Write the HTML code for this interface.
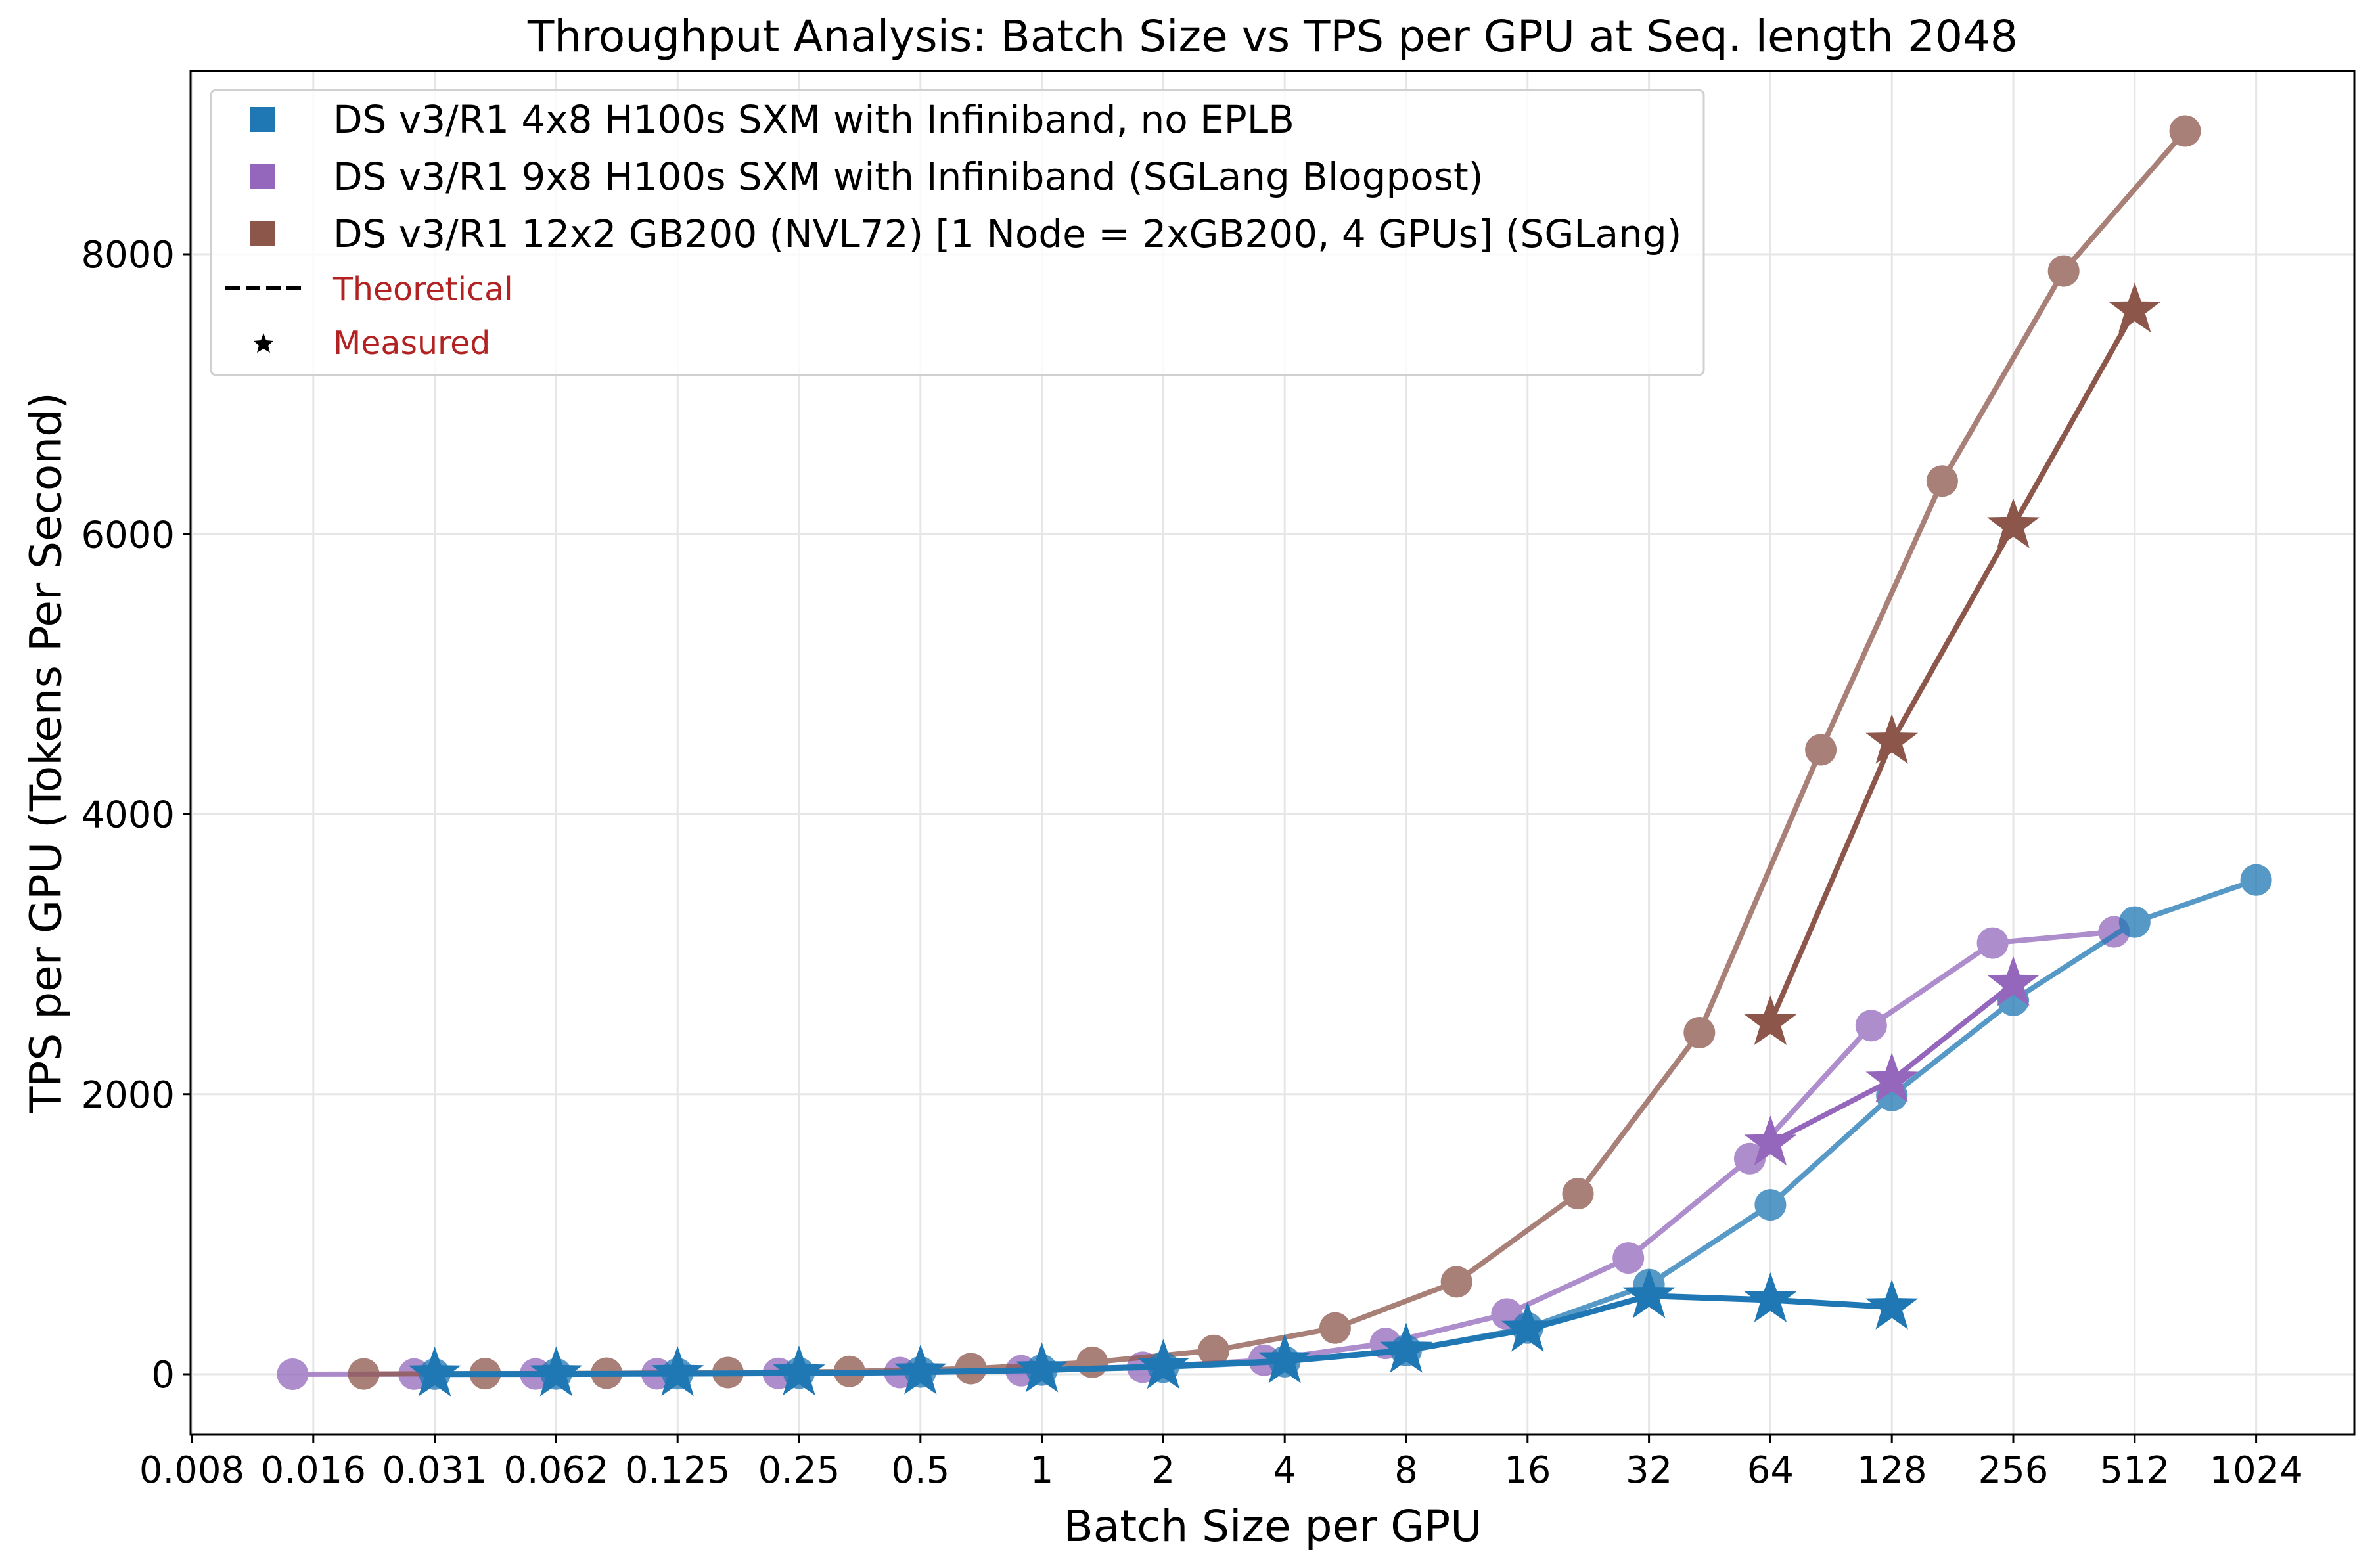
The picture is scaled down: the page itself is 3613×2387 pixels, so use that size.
<!DOCTYPE html>
<html><head><meta charset="utf-8"><style>
html,body{margin:0;padding:0;background:#fff;}
svg{display:block;font-family:"DejaVu Sans","Liberation Sans",sans-serif;}
</style></head><body>
<svg id="chart" width="3613" height="2387" viewBox="0 0 3613 2387" xmlns="http://www.w3.org/2000/svg">
<rect width="3613" height="2387" fill="#fff"/>
<g id="grid"></g>
<g id="axes"></g>
<g id="series"></g>
<text x="1937" y="78" font-size="66" text-anchor="middle">Throughput Analysis: Batch Size vs TPS per GPU at Seq. length 2048</text>
<text x="1937" y="2346" font-size="66" text-anchor="middle">Batch Size per GPU</text>
<text transform="translate(70,1146) rotate(-90)" font-size="66" text-anchor="middle" dominant-baseline="central">TPS per GPU (Tokens Per Second)</text>
<g>
<rect x="321" y="137" width="2272" height="434" rx="8" fill="#fff" fill-opacity="0.8" stroke="#d0d0d0" stroke-width="3"/>
<rect x="381" y="163" width="38" height="38" fill="#1f77b4"/>
<text x="507" y="202" font-size="58">DS v3/R1 4x8 H100s SXM with Infiniband, no EPLB</text>
<rect x="381" y="250" width="38" height="38" fill="#9467bd"/>
<text x="507" y="289" font-size="58">DS v3/R1 9x8 H100s SXM with Infiniband (SGLang Blogpost)</text>
<rect x="381" y="337" width="38" height="38" fill="#8c564b"/>
<text x="507" y="376" font-size="58">DS v3/R1 12x2 GB200 (NVL72) [1 Node = 2xGB200, 4 GPUs] (SGLang)</text>
<line x1="343" y1="439" x2="460" y2="439" stroke="#000" stroke-width="6" stroke-dasharray="22,9"/>
<text x="507" y="457" font-size="49" fill="#b22222">Theoretical</text>
<polygon points="401,507 405,518 416,519 408,526 411,537 401,531 391,537 394,526 386,519 397,518" fill="#000"/>
<text x="507" y="539" font-size="49" fill="#b22222">Measured</text>
</g>
</svg>
<script>
const blueX = [1/32,1/16,1/8,1/4,1/2,1,2,4,8,16,32,64,128,256,512,1024];
const blueTheo = [1,2,4,8,16,30,50,90,170,330,640,1210,1990,2670,3230,3530];
const blueStarX = [1/32,1/16,1/8,1/4,1/2,1,2,4,8,16,32,64,128];
const blueMeas = [1,2,4,8,15,30,55,95,170,320,560,530,480];
const purpleX = [1,2,4,8,16,32,64,128,256,512,1024,2048,4096,8192,16384,32768].map(v=>v/72);
const purpleTheo = [0,1,2,3,6,12,25,50,100,220,430,830,1540,2490,3080,3160];
const purpleStarX = [64,128,256];
const purpleMeas = [1650,2100,2790];
const brownX = [1,2,4,8,16,32,64,128,256,512,1024,2048,4096,8192,16384,32768].map(v=>v/48);
const brownTheo = [2,4,7,12,20,40,85,170,330,660,1290,2440,4460,6380,7880,8880];
const brownStarX = [64,128,256,512];
const brownMeas = [2510,4520,6060,7600];
const xTicks = [0.0078125,0.015625,0.03125,0.0625,0.125,0.25,0.5,1,2,4,8,16,32,64,128,256,512,1024];
const xTickLabels = ["0.008","0.016","0.031","0.062","0.125","0.25","0.5","1","2","4","8","16","32","64","128","256","512","1024"];
const yTicks = [0,2000,4000,6000,8000];

const L=290,R=3583,T=108,B=2184;
const ns="http://www.w3.org/2000/svg";
function X(v){return 292+(Math.log2(v)+7)*184.8;}
function Y(v){return 2092-v*(2092-387)/8000;}
function mk(tag,attrs,parent){const e=document.createElementNS(ns,tag);for(const k in attrs)e.setAttribute(k,attrs[k]);parent.appendChild(e);return e;}
const grid=document.getElementById('grid'),axes=document.getElementById('axes'),ser=document.getElementById('series');
xTicks.forEach((t,i)=>{
  const x=X(t);
  const g=mk('line',{x1:x,x2:x,y1:T,y2:B,stroke:'#e6e6e6','stroke-width':3},grid);
  
  
  mk('line',{x1:x,x2:x,y1:B,y2:B+12,stroke:'#000','stroke-width':3},axes);
  const tx=mk('text',{x:x,y:B+73,'font-size':56,'text-anchor':'middle'},axes);
  tx.textContent=xTickLabels[i];
  
  
});
yTicks.forEach(t=>{
  const y=Y(t);
  const g=mk('line',{x1:L,x2:R,y1:y,y2:y,stroke:'#e6e6e6','stroke-width':3},grid);
  
  
  mk('line',{x1:L-12,x2:L,y1:y,y2:y,stroke:'#000','stroke-width':3},axes);
  const tx=mk('text',{x:L-24,y:y+20,'font-size':56,'text-anchor':'end'},axes);
  tx.textContent=String(t);
  
  
});
const frame=mk('rect',{x:L,y:T,width:R-L,height:B-T,fill:'none',stroke:'#000','stroke-width':3},axes);



function star(cx,cy,r){let p=[];for(let i=0;i<10;i++){const a=-Math.PI/2+i*Math.PI/5;const rr=i%2?r*0.4:r;p.push((cx+rr*Math.cos(a)).toFixed(1)+','+(cy+rr*Math.sin(a)).toFixed(1));}return p.join(' ');}
function circleSeries(xs,ys,color,name){
  const g=mk('g',{opacity:0.75},ser);
  
  
  const pts=xs.map((x,i)=>X(x)+','+Y(ys[i])).join(' ');
  mk('polyline',{points:pts,fill:'none',stroke:color,'stroke-width':8,'stroke-linejoin':'round'},g);
  xs.forEach((x,i)=>{
    const c=mk('circle',{cx:X(x),cy:Y(ys[i]),r:24,fill:color},g);
    
    
  });
}
function starSeries(xs,ys,color,name,w){
  const g=mk('g',{},ser);
  
  
  const pts=xs.map((x,i)=>X(x)+','+Y(ys[i])).join(' ');
  mk('polyline',{points:pts,fill:'none',stroke:color,'stroke-width':w,'stroke-linejoin':'round'},g);
  xs.forEach((x,i)=>{
    const s=mk('polygon',{points:star(X(x),Y(ys[i]),42),fill:color},g);
    
    
  });
}
circleSeries(purpleX,purpleTheo,'#9467bd','purple-theoretical');
circleSeries(brownX,brownTheo,'#8c564b','brown-theoretical');
circleSeries(blueX,blueTheo,'#1f77b4','blue-theoretical');
starSeries(brownStarX,brownMeas,'#8c564b','brown-measured',8);
starSeries(purpleStarX,purpleMeas,'#9467bd','purple-measured',8);
starSeries(blueStarX,blueMeas,'#1f77b4','blue-measured',9);
</script>
</body></html>
